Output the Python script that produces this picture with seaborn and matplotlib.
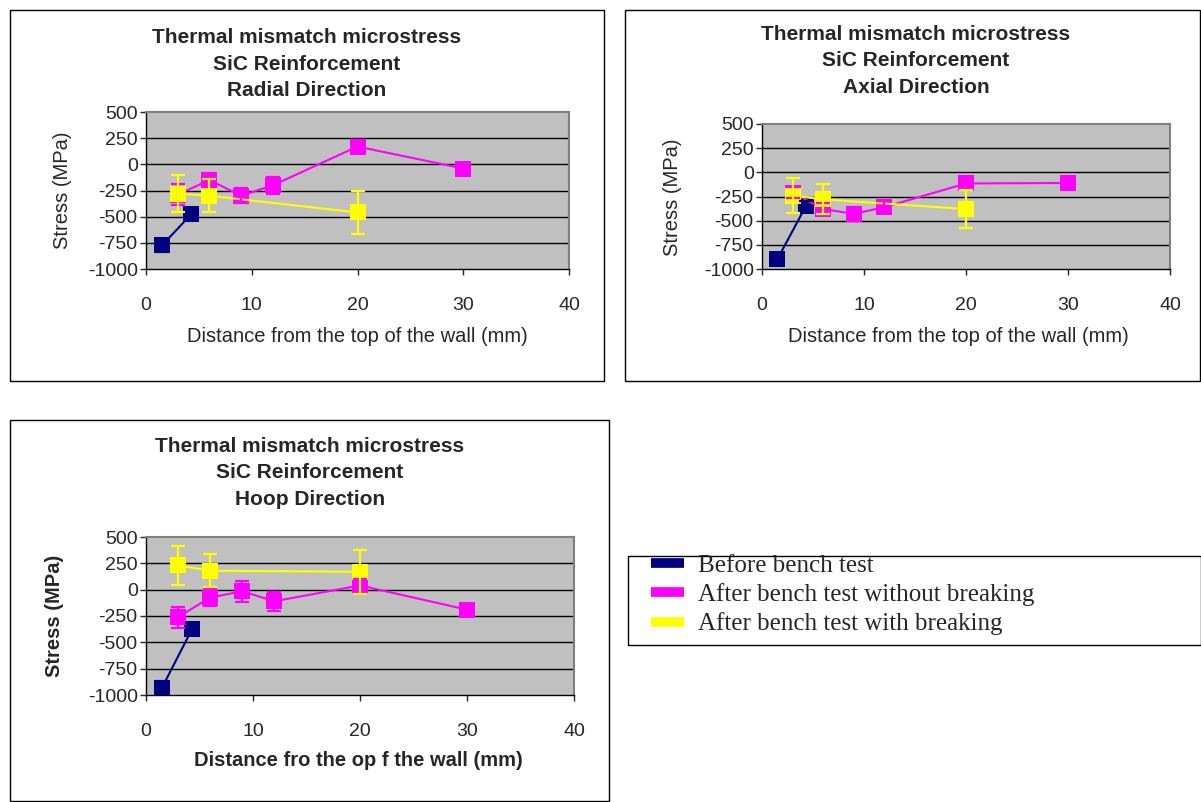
import matplotlib
matplotlib.use("Agg")
import matplotlib.pyplot as plt
from matplotlib.patches import Rectangle
from matplotlib.lines import Line2D
import seaborn as sns

# distances (mm)
dist_before = [1.5, 4.3]
dist_nobreak = [3, 6, 9, 12, 20, 30]
dist_break = [3, 6, 20]

# radial direction (MPa)
radial_before = [-775, -475]
radial_before_err = [60, 60]
radial_nobreak = [-290, -150, -300, -200, 170, -40]
radial_nobreak_err = [100, 70, 70, 80, 60, 40]
radial_break = [-280, -300, -460]
radial_break_err = [180, 160, 210]

# axial direction (MPa)
axial_before = [-900, -350]
axial_before_err = [50, 50]
axial_nobreak = [-210, -380, -430, -360, -115, -110]
axial_nobreak_err = [60, 60, 70, 60, 60, 30]
axial_break = [-240, -280, -380]
axial_break_err = [180, 155, 200]

# hoop direction (MPa)
hoop_before = [-930, -375]
hoop_before_err = [60, 60]
hoop_nobreak = [-260, -75, -15, -110, 40, -190]
hoop_nobreak_err = [100, 80, 100, 90, 60, 40]
hoop_break = [230, 180, 170]
hoop_break_err = [185, 155, 210]

y_ticks = [500, 250, 0, -250, -500, -750, -1000]
x_ticks = [0, 10, 20, 30, 40]

series_labels = ["Before bench test", "After bench test without breaking",
                 "After bench test with breaking"]
colors = ["#000080", "#FF00FF", "#FFFF00"]

sns.set_style("white")
plt.rcParams["font.family"] = ["Liberation Sans", "DejaVu Sans"]
plt.rcParams["axes.unicode_minus"] = False

W, H = 1201, 802
fig = plt.figure(figsize=(W / 100, H / 100), dpi=100)


def fx(px):
    return px / W


def fy(py):
    return 1 - py / H


def add_ax(left, right, top, bottom):
    return fig.add_axes([fx(left), fy(bottom), fx(right - left), (bottom - top) / H])


def draw_panel(ax, data):
    for (xs, ys, es), c in zip(data, colors):
        sns.lineplot(x=xs, y=ys, ax=ax, color=c, lw=1.5, marker="s", markersize=11,
                     markeredgewidth=0, sort=False, estimator=None, legend=False)
        ax.errorbar(xs, ys, yerr=es, fmt="none", ecolor=c, elinewidth=1.6,
                    capsize=5, capthick=1.6, clip_on=False, zorder=3)
    for ln in ax.lines:
        ln.set_clip_on(False)
    ax.set_facecolor("#C0C0C0")
    ax.set_xlim(0, 40)
    ax.set_ylim(-1000, 500)
    ax.set_xticks(x_ticks)
    ax.set_yticks(y_ticks)
    ax.set_xlabel("")
    ax.set_ylabel("")
    ax.grid(False)
    for v in y_ticks[1:-1]:
        ax.axhline(v, color="black", lw=1, zorder=1)
    ax.tick_params(axis="x", direction="out", length=4, width=1, pad=16, labelsize=14,
                   bottom=True)
    ax.tick_params(axis="y", direction="out", length=4, width=1, pad=2, labelsize=14,
                   left=True)
    for s in ["left", "bottom"]:
        ax.spines[s].set_color("black")
        ax.spines[s].set_linewidth(1)
    for s in ["top", "right"]:
        ax.spines[s].set_color("#808080")
        ax.spines[s].set_linewidth(1.5)


def frame(left, top, right, bottom):
    fig.patches.append(Rectangle((fx(left), fy(bottom)), fx(right - left), (bottom - top) / H,
                                 transform=fig.transFigure, fill=False, ec="black", lw=1))


def title(x, y, direction):
    fig.text(fx(x), fy(y), "Thermal mismatch microstress\nSiC Reinforcement\n" + direction,
             ha="center", va="center", fontsize=15, fontweight="bold", linespacing=1.5)


# panel 1: radial
frame(10, 10, 604, 381)
ax1 = add_ax(146, 569, 112, 269)
draw_panel(ax1, [(dist_before, radial_before, radial_before_err),
                 (dist_nobreak, radial_nobreak, radial_nobreak_err),
                 (dist_break, radial_break, radial_break_err)])
title(307, 64, "Radial Direction")
fig.text(fx(63), fy(190), "Stress (MPa)", rotation=90, ha="center", va="center", fontsize=14.5)
fig.text(fx(357), fy(336), "Distance from the top of the wall (mm)", ha="center", va="center",
         fontsize=14.5)

# panel 2: axial
frame(625, 10, 1200, 381)
ax2 = add_ax(762, 1170, 124, 269)
draw_panel(ax2, [(dist_before, axial_before, axial_before_err),
                 (dist_nobreak, axial_nobreak, axial_nobreak_err),
                 (dist_break, axial_break, axial_break_err)])
title(916, 61, "Axial Direction")
fig.text(fx(672), fy(197), "Stress (MPa)", rotation=90, ha="center", va="center", fontsize=14.5)
fig.text(fx(958), fy(336), "Distance from the top of the wall (mm)", ha="center", va="center",
         fontsize=14.5)

# panel 3: hoop
frame(10, 420, 609, 801)
ax3 = add_ax(146, 574, 537, 695)
draw_panel(ax3, [(dist_before, hoop_before, hoop_before_err),
                 (dist_nobreak, hoop_nobreak, hoop_nobreak_err),
                 (dist_break, hoop_break, hoop_break_err)])
title(310, 473, "Hoop Direction")
fig.text(fx(55), fy(616), "Stress (MPa)", rotation=90, ha="center", va="center", fontsize=14.5,
         fontweight="bold")
fig.text(fx(358), fy(760), "Distance fro the op f the wall (mm)", ha="center", va="center",
         fontsize=14.5, fontweight="bold")

# legend
frame(628, 556, 1201, 645)
handles = [Line2D([0], [0], color=c, lw=7, solid_capstyle="butt") for c in colors]
fig.legend(handles, series_labels, loc="upper left", bbox_to_anchor=(fx(633), fy(537)),
           frameon=False, prop={"family": "Liberation Serif", "size": 18},
           handlelength=1.35, handletextpad=0.55, labelspacing=0.25, borderpad=0.2)

fig.savefig("out.png", dpi=100)
